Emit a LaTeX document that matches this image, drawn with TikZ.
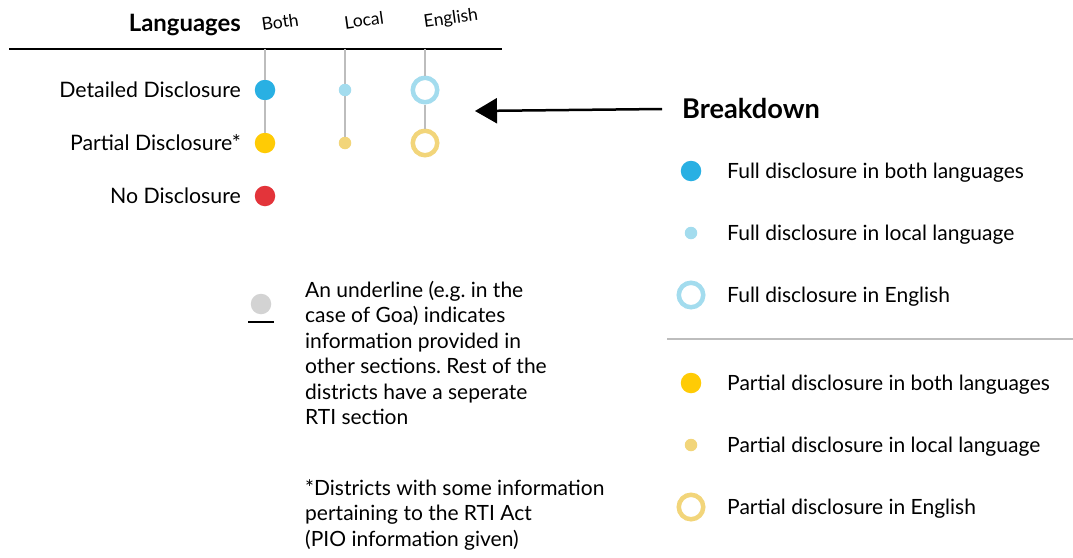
\documentclass[tikz,border=0pt]{standalone}
\usepackage{fontspec}
\setmainfont{Lato}
\usetikzlibrary{arrows.meta,positioning}

\definecolor{fullblue}{HTML}{29B0E3}
\definecolor{paleblue}{HTML}{A3DCEE}
\definecolor{fullyellow}{HTML}{FFCB05}
\definecolor{paleyellow}{HTML}{F2D57A}
\definecolor{nored}{HTML}{E3343A}
\definecolor{stemgray}{HTML}{BDBDBD}
\definecolor{notegray}{HTML}{D3D3D3}

\tikzset{
	bigdot/.style={circle, fill=#1, inner sep=0pt, minimum size=20.5pt},
	smalldot/.style={circle, fill=#1, inner sep=0pt, minimum size=12.5pt},
	ringdot/.style={circle, draw=#1, line width=4.5pt, fill=white, inner sep=0pt, minimum size=24.5pt},
	rowlabel/.style={anchor=base east, inner sep=0pt, font=\fontsize{21.3}{24}\selectfont},
	colhead/.style={rotate=8, inner sep=0pt, font=\fontsize{17.5}{20}\selectfont},
	keytext/.style={anchor=base west, inner sep=0pt, font=\fontsize{21}{24}\selectfont},
	headtext/.style={inner sep=0pt, font=\fontsize{#1}{28}\selectfont\bfseries},
	notetext/.style={anchor=base west, align=left, inner sep=0pt, font=\fontsize{21}{25.5}\selectfont\frenchspacing},
	stem/.style={stemgray, line width=1.5pt},
}

\begin{document}
\begin{tikzpicture}[x=1pt, y=-1pt]
		%%%%% START %%%%%
		\useasboundingbox (0, 0) rectangle (1073, 557);
		
		% header of the chart
		\node[headtext=23.9, anchor=base east] (languages) at (241, 31) {Languages};
		\node[colhead] (hboth) at (280, 22) {Both};
		\node[colhead] (hlocal) at (364, 20) {Local};
		\node[colhead] (henglish) at (451, 19) {English};
		\draw[line width=1.2pt] (9, 49) -- (502, 49);
		\coordinate (tboth) at (265, 49);
		\coordinate (tlocal) at (345, 49);
		\coordinate (tenglish) at (425, 49);
		
		% rows
		\node[rowlabel] (detailed) at (241, 97) {Detailed Disclosure};
		\node[rowlabel] (partial) at (241, 150) {Partial Disclosure*};
		\node[rowlabel] (nodisc) at (241, 203) {No Disclosure};
		
		\node[bigdot=fullblue] (dboth) at (265, 90) {};
		\node[smalldot=paleblue] (dlocal) at (345, 90) {};
		\node[ringdot=paleblue] (denglish) at (425, 90) {};
		\node[bigdot=fullyellow] (pboth) at (265, 143) {};
		\node[smalldot=paleyellow] (plocal) at (345, 143) {};
		\node[ringdot=paleyellow] (penglish) at (425, 143) {};
		\node[bigdot=nored] (nboth) at (265, 196) {};
		
		\draw[stem] (tboth) -- (dboth) (dboth) -- (pboth);
		\draw[stem] (tlocal) -- (dlocal) (dlocal) -- (plocal);
		\draw[stem] (tenglish) -- (denglish) (denglish) -- (penglish);
		
		% arrow to the breakdown
		\node[headtext=27.2, anchor=base west] (breakdown) at (682, 118) {Breakdown};
		\coordinate (atip) at (475, 111);
		\draw[line width=2.5pt, -{Triangle[length=22pt, width=25pt]}] (breakdown.west) ++(-20, 1) -- (atip);
		
		% breakdown key
		\node[bigdot=fullblue] (kfb) at (691, 171) {};
		\node[keytext] (tfb) at (727, 178) {Full disclosure in both languages};
		\node[smalldot=paleblue] (kfl) at (691, 233) {};
		\node[keytext] (tfl) at (727, 240) {Full disclosure in local language};
		\node[ringdot=paleblue] (kfe) at (691, 295) {};
		\node[keytext] (tfe) at (727, 302) {Full disclosure in English};
		
		\draw[stemgray, line width=1.5pt] (667, 339) -- (1073, 339);
		
		\node[bigdot=fullyellow] (kpb) at (691, 383) {};
		\node[keytext] (tpb) at (727, 390) {Partial disclosure in both languages};
		\node[smalldot=paleyellow] (kpl) at (691, 445) {};
		\node[keytext] (tpl) at (727, 452) {Partial disclosure in local language};
		\node[ringdot=paleyellow] (kpe) at (691, 507) {};
		\node[keytext] (tpe) at (727, 514) {Partial disclosure in English};
		
		% notes (base is the last line)
		\node[bigdot=notegray] (ndot) at (261, 304) {};
		\draw[line width=2pt] (248, 322) -- (274, 322);
		\node[notetext] (note) at (305, 424.5) {An underline (e.g. in the\\case of Goa) indicates\\information provided in\\other sections. Rest of the\\districts have a seperate\\RTI section};
		\node[notetext] (foot) at (305, 546) {*Districts with some information\\pertaining to the RTI Act\\(PIO information given)};
		
		%%%%% END %%%%%
\end{tikzpicture}
\end{document}
